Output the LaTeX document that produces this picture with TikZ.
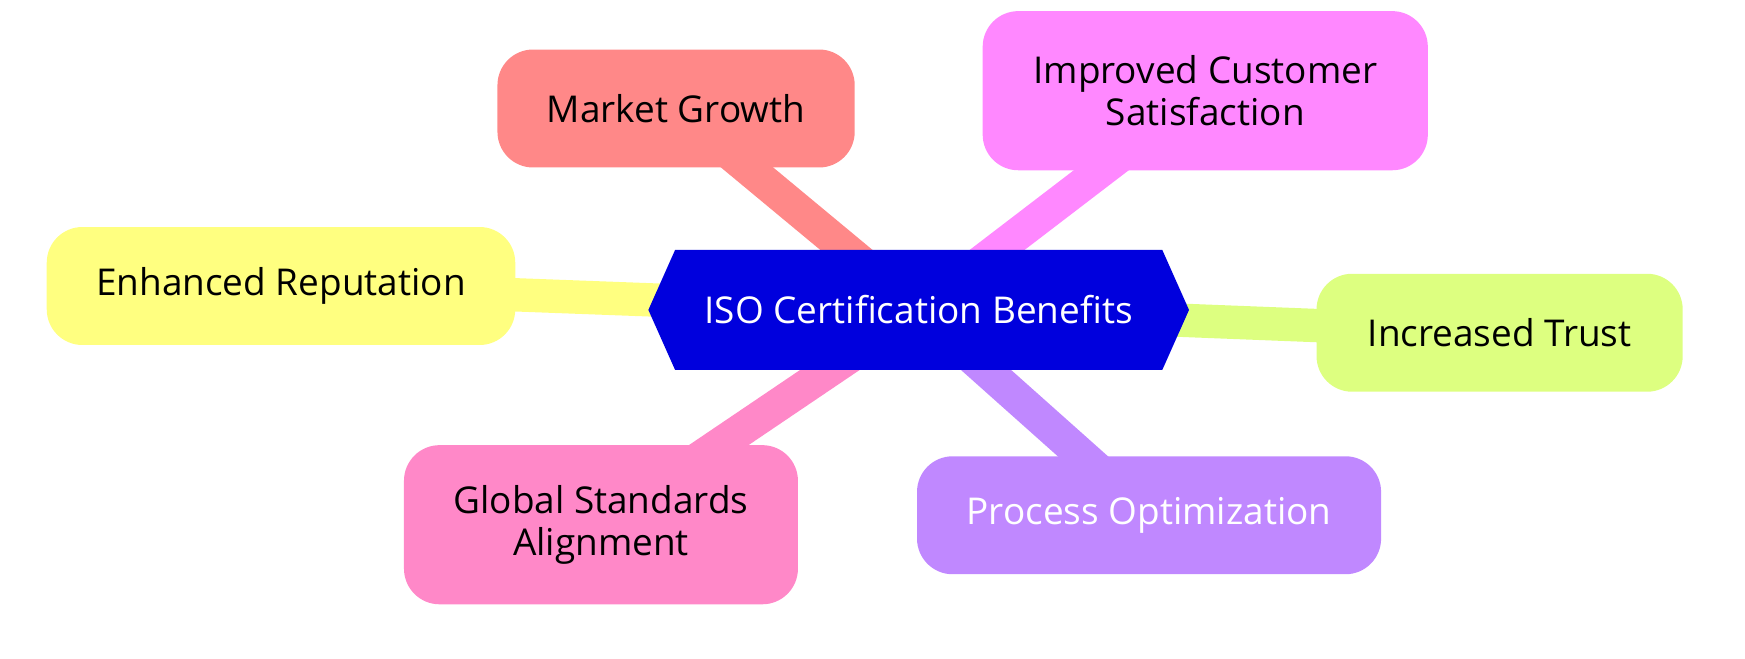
\documentclass[tikz,border=0pt]{standalone}
\usepackage{fontspec}
\setmainfont{Open Sans}
\usetikzlibrary{calc,backgrounds}
\definecolor{cMG}{HTML}{FF8888}
\definecolor{cICS}{HTML}{FF88FF}
\definecolor{cER}{HTML}{FFFF80}
\definecolor{cIT}{HTML}{DDFF80}
\definecolor{cGSA}{HTML}{FF88C8}
\definecolor{cPO}{HTML}{C088FF}
\definecolor{hubblue}{HTML}{0000DD}
\begin{document}
\begin{tikzpicture}[x=0.5pt,y=-0.5pt,
  leaf/.style={rounded corners=16pt, align=center, inner sep=0pt, font=\fontsize{16.6}{19}\selectfont, text=black},
  short/.style={minimum height=53pt},
  tall/.style={minimum height=71.5pt},
  link/.style={line width=15pt}]
\useasboundingbox (0,0) rectangle (1568,592);
\node[leaf, short, fill=cMG, minimum width=160.5pt] (mg) at (607.5,97.5) {Market Growth};
\node[leaf, tall, fill=cICS, minimum width=200pt] (ics) at (1083,81.5) {Improved Customer\\Satisfaction};
\node[leaf, short, fill=cER, minimum width=210.5pt] (er) at (252.5,257) {Enhanced Reputation};
\node[leaf, short, fill=cIT, minimum width=164.5pt] (it) at (1347.5,299) {Increased Trust};
\node[leaf, tall, fill=cGSA, minimum width=177pt] (gsa) at (540,471.5) {Global Standards\\Alignment};
\node[leaf, short, fill=cPO, text=white, minimum width=208.5pt] (po) at (1032.5,463) {Process Optimization};
\node[inner sep=0pt, text=white, font=\fontsize{16.6}{19}\selectfont, minimum width=242.5pt, minimum height=53.5pt] (hub) at (825.5,278.5) {ISO Certification Benefits};
\begin{pgfonlayer}{background}
\foreach \n/\c in {mg/cMG, ics/cICS, er/cER, it/cIT, gsa/cGSA, po/cPO}
  \draw[link, \c] (hub.center) -- (\n.center);
\fill[hubblue] (hub.west) -- ($(hub.north west)+(12pt,0)$) -- ($(hub.north east)+(-12pt,0)$) -- (hub.east) -- ($(hub.south east)+(-12pt,0)$) -- ($(hub.south west)+(12pt,0)$) -- cycle;
\end{pgfonlayer}
\end{tikzpicture}
\end{document}
